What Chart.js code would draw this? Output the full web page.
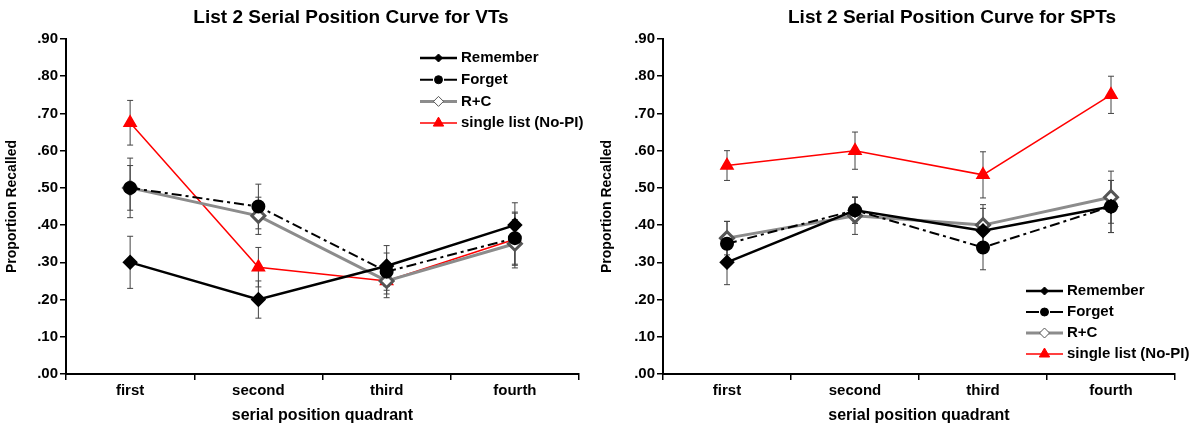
<!DOCTYPE html>
<html>
<head>
<meta charset="utf-8">
<script src="https://cdn.jsdelivr.net/npm/chart.js@4/dist/chart.umd.min.js"></script>
<style>
  body { margin: 0; background: #fff; }
  #wrap { position: relative; width: 1190px; height: 428px; }
  canvas { position: absolute; top: 0; }
  #vt { left: 0; }
  #spt { left: 595px; }
</style>
</head>
<body>
<div id="wrap">
  <canvas id="vt" width="595" height="428"></canvas>
  <canvas id="spt" width="595" height="428"></canvas>
</div>
<script>
// Data
var quadrants = ['first', 'second', 'third', 'fourth'];
var seriesNames = ['Remember', 'Forget', 'R+C', 'single list (No-PI)'];

var vtRemember = [0.30, 0.20, 0.29, 0.40];
var vtForget = [0.50, 0.45, 0.275, 0.365];
var vtRC = [0.50, 0.425, 0.25, 0.35];
var vtSingle = [0.675, 0.287, 0.25, 0.362];

var vtRememberErr = [0.07, 0.05, 0.055, 0.06];
var vtForgetErr = [0.06, 0.06, 0.05, 0.07];
var vtRCErr = [0.08, 0.05, 0.045, 0.065];
var vtSingleErr = [0.06, 0.053, 0.035, 0.07];

var sptRemember = [0.30, 0.44, 0.385, 0.45];
var sptForget = [0.35, 0.44, 0.34, 0.45];
var sptRC = [0.365, 0.425, 0.40, 0.475];
var sptSingle = [0.56, 0.60, 0.535, 0.75];

var sptRememberErr = [0.06, 0.035, 0.06, 0.07];
var sptForgetErr = [0.06, 0.035, 0.06, 0.07];
var sptRCErr = [0.045, 0.05, 0.055, 0.07];
var sptSingleErr = [0.04, 0.05, 0.062, 0.05];

var FONT = "'Liberation Sans', Arial, sans-serif";

// Plugins
var errorBars = {
    id: 'errorBars',
    beforeDatasetsDraw: function(chart){
        var ctx = chart.ctx;
        var y = chart.scales.y;
        ctx.save();
        ctx.strokeStyle = '#444';
        ctx.lineWidth = 1;
        chart.data.datasets.forEach(function(ds, di){
            var meta = chart.getDatasetMeta(di);
            ds.data.forEach(function(v, i){
                var e = ds.err[i];
                var px = meta.data[i].x;
                var top = y.getPixelForValue(v + e);
                var bot = y.getPixelForValue(v - e);
                ctx.beginPath();
                ctx.moveTo(px, top); ctx.lineTo(px, bot);
                ctx.moveTo(px - 3, top); ctx.lineTo(px + 3, top);
                ctx.moveTo(px - 3, bot); ctx.lineTo(px + 3, bot);
                ctx.stroke();
            });
        });
        ctx.restore();
    }
};

var sideTitle = {
    id: 'sideTitle',
    afterDraw: function(chart, args, opts){
        var ctx = chart.ctx;
        ctx.save();
        ctx.font = 'bold 19px ' + FONT;
        ctx.fillStyle = '#000';
        ctx.textAlign = 'center';
        ctx.textBaseline = 'middle';
        ctx.fillText(opts.text, opts.x, opts.y);
        ctx.restore();
    }
};

var boxLegend = {
    id: 'boxLegend',
    afterDraw: function(chart, args, opts){
        var ctx = chart.ctx;
        ctx.save();
        chart.data.datasets.forEach(function(ds, i){
            var y = opts.y + i * opts.gap;
            ctx.beginPath();
            ctx.strokeStyle = ds.borderColor;
            ctx.lineWidth = ds.borderWidth;
            ctx.setLineDash(ds.legendDash || []);
            ctx.moveTo(opts.x, y);
            ctx.lineTo(opts.x + 37, y);
            ctx.stroke();
            ctx.setLineDash([]);
            ctx.fillStyle = ds.pointBackgroundColor;
            ctx.strokeStyle = ds.pointBorderColor;
            ctx.lineWidth = 1;
            Chart.helpers.drawPoint(ctx, {
                pointStyle: ds.pointStyle,
                radius: ds.legendRadius,
                rotation: 0,
                borderWidth: 1
            }, opts.x + 18.5, y);
            ctx.fillStyle = '#000';
            ctx.font = 'bold 15px ' + FONT;
            ctx.textAlign = 'left';
            ctx.textBaseline = 'middle';
            ctx.fillText(ds.label, opts.x + 41, y);
        });
        ctx.restore();
    }
};

function makeDatasets(rem, forg, rc, single, remE, forgE, rcE, singleE){
    return [{
        label: seriesNames[0], data: rem, err: remE,
        borderColor: '#000', borderWidth: 2.5,
        pointStyle: 'rectRot', pointRadius: 6, legendRadius: 4,
        pointBackgroundColor: '#000', pointBorderColor: '#000'
    }, {
        label: seriesNames[1], data: forg, err: forgE,
        borderColor: '#000', borderWidth: 2, borderDash: [10, 4, 3, 4], legendDash: [13, 11],
        pointStyle: 'circle', pointRadius: 6, legendRadius: 4,
        pointBackgroundColor: '#000', pointBorderColor: '#000'
    }, {
        label: seriesNames[2], data: rc, err: rcE,
        borderColor: '#8c8c8c', borderWidth: 3,
        pointStyle: 'rectRot', pointRadius: 6.5, legendRadius: 5,
        pointBackgroundColor: '#fff', pointBorderColor: '#555'
    }, {
        label: seriesNames[3], data: single, err: singleE,
        borderColor: '#ff0000', borderWidth: 1.5,
        pointStyle: 'triangle', pointRadius: 7, legendRadius: 6,
        pointBackgroundColor: '#ff0000', pointBorderColor: '#ff0000'
    }];
}

function createGraph(id, datasets, title, legend, yWidth, padRight){
    return new Chart(document.getElementById(id), {
        type: 'line',
        data: { labels: quadrants, datasets: datasets },
        plugins: [errorBars, sideTitle, boxLegend],
        options: {
            responsive: false,
            animation: false,
            layout: { padding: { top: 39, right: padRight, left: 0, bottom: 0 } },
            elements: { line: { tension: 0 }, point: { borderWidth: 1 } },
            plugins: {
                legend: { display: false },
                tooltip: { enabled: false },
                sideTitle: title,
                boxLegend: legend
            },
            scales: {
                x: {
                    type: 'category',
                    offset: true,
                    grid: { offset: true, drawOnChartArea: false, tickLength: 6, color: '#000', lineWidth: 1.5 },
                    border: { color: '#000', width: 2 },
                    ticks: { color: '#000', font: { family: FONT, size: 15, weight: 'bold' }, padding: 2, maxRotation: 0 },
                    title: { display: true, text: 'serial position quadrant', color: '#000',
                             font: { family: FONT, size: 16, weight: 'bold' }, padding: { top: 2, bottom: 3 } },
                    afterFit: function(s){ s.height = 54; }
                },
                y: {
                    min: 0, max: 0.9,
                    grid: { drawOnChartArea: false, tickLength: 6, color: '#000', lineWidth: 1.5 },
                    border: { color: '#000', width: 2 },
                    ticks: { stepSize: 0.1, color: '#000', padding: 2,
                             font: { family: FONT, size: 15, weight: 'bold' },
                             callback: function(v){ return v.toFixed(2).replace('0.', '.'); } },
                    title: { display: true, text: 'Proportion Recalled', color: '#000',
                             font: { family: FONT, size: 14, weight: 'bold' }, padding: { top: 4, bottom: 0 } },
                    afterFit: function(s){ s.width = yWidth; }
                }
            }
        }
    });
}

createGraph('vt',
    makeDatasets(vtRemember, vtForget, vtRC, vtSingle, vtRememberErr, vtForgetErr, vtRCErr, vtSingleErr),
    { text: 'List 2 Serial Position Curve for VTs', x: 351, y: 18 },
    { x: 420, y: 58, gap: 21.7 },
    66, 16);

createGraph('spt',
    makeDatasets(sptRemember, sptForget, sptRC, sptSingle, sptRememberErr, sptForgetErr, sptRCErr, sptSingleErr),
    { text: 'List 2 Serial Position Curve for SPTs', x: 357, y: 18 },
    { x: 431, y: 291, gap: 21 },
    68, 15);
</script>
</body>
</html>
